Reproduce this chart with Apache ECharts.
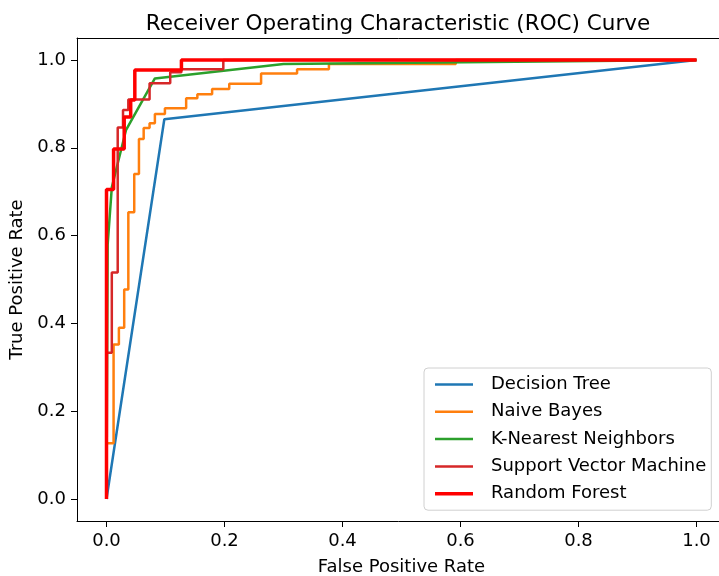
<!DOCTYPE html>
<html>
<head>
<meta charset="utf-8">
<script src="https://cdn.jsdelivr.net/npm/echarts@6/dist/echarts.min.js"></script>
<style>html,body{margin:0;padding:0;background:#fff;}#c{width:719px;height:576px;}</style>
</head>
<body>
<div id="c"></div>
<script>
const seriesNames = ['Decision Tree', 'Naive Bayes', 'K-Nearest Neighbors', 'Support Vector Machine', 'Random Forest'];
const tickValues = [0, 0.2, 0.4, 0.6, 0.8, 1.0];

const dtFpr = [0, 0.098, 1];
const dtTpr = [0, 0.865, 1];

const nbFpr = [0, 0, 0.012, 0.012, 0.021, 0.021, 0.030, 0.030, 0.037, 0.037, 0.047, 0.047, 0.055, 0.055, 0.063, 0.063, 0.073, 0.073, 0.082, 0.082, 0.099, 0.099, 0.135, 0.135, 0.154, 0.154, 0.179, 0.179, 0.208, 0.208, 0.262, 0.262, 0.323, 0.323, 0.377, 0.377, 0.592, 0.592, 1];
const nbTpr = [0, 0.127, 0.127, 0.352, 0.352, 0.390, 0.390, 0.477, 0.477, 0.653, 0.653, 0.740, 0.740, 0.820, 0.820, 0.845, 0.845, 0.856, 0.856, 0.877, 0.877, 0.890, 0.890, 0.913, 0.913, 0.922, 0.922, 0.934, 0.934, 0.946, 0.946, 0.969, 0.969, 0.979, 0.979, 0.991, 0.991, 1, 1];

const knnFpr = [0, 0.002, 0.009, 0.033, 0.082, 0.300, 1];
const knnTpr = [0, 0.580, 0.710, 0.840, 0.958, 0.991, 1];

const svmFpr = [0, 0, 0.009, 0.009, 0.019, 0.019, 0.028, 0.028, 0.037, 0.037, 0.073, 0.073, 0.108, 0.108, 0.127, 0.127, 0.198, 0.198, 1];
const svmTpr = [0, 0.333, 0.333, 0.516, 0.516, 0.846, 0.846, 0.886, 0.886, 0.910, 0.910, 0.947, 0.947, 0.972, 0.972, 0.979, 0.979, 1, 1];

const rfFpr = [0, 0, 0.012, 0.012, 0.030, 0.030, 0.041, 0.041, 0.048, 0.048, 0.127, 0.127, 1];
const rfTpr = [0, 0.705, 0.705, 0.797, 0.797, 0.870, 0.870, 0.909, 0.909, 0.977, 0.977, 1, 1];

function pairs(xs, ys) { return xs.map((x, i) => [x, ys[i]]); }

const FONT = 'DejaVu Sans';
const chart = echarts.init(document.getElementById('c'), null, {renderer: 'canvas', devicePixelRatio: 1});

function mkSeries(name, xs, ys, color, width) {
  return {
    name: name, type: 'line', data: pairs(xs, ys), symbol: 'none', showSymbol: false,
    lineStyle: {color: color, width: width}, itemStyle: {color: color},
    animation: false, silent: true, clip: true
  };
}

function mkAxis(name, gap, rot) {
  return {
    type: 'value', min: -0.05, max: 1.05,
    name: name, nameLocation: 'middle', nameGap: gap, nameRotate: rot,
    nameTextStyle: {fontFamily: FONT, fontSize: 18, color: '#000'},
    axisLine: {show: true, onZero: false, lineStyle: {color: '#000', width: 1}},
    axisTick: {show: true, length: 6, inside: false, customValues: tickValues, lineStyle: {color: '#000', width: 1}},
    axisLabel: {show: true, margin: 11, customValues: tickValues, formatter: v => v.toFixed(1),
      fontFamily: FONT, fontSize: 18, color: '#000'},
    splitLine: {show: false}
  };
}

function mkSpine(pos) {
  return {
    type: 'value', min: -0.05, max: 1.05, position: pos,
    axisLine: {show: true, onZero: false, lineStyle: {color: '#000', width: 1}},
    axisTick: {show: false}, axisLabel: {show: false}, splitLine: {show: false}
  };
}

const legendWidths = [2.5, 2.5, 2.5, 2.5, 3.5];
const legendData = seriesNames.map((n, i) => ({
  name: n,
  icon: 'path://M0 0H38V' + legendWidths[i] + 'H0Z'
}));

chart.setOption({
  backgroundColor: '#fff',
  animation: false,
  title: {
    text: 'Receiver Operating Characteristic (ROC) Curve',
    left: 393, top: 8, textAlign: 'center',
    textStyle: {fontFamily: FONT, fontSize: 21.5, fontWeight: 'normal', color: '#000'}
  },
  grid: {left: 77, top: 38, right: -7, bottom: 55, outerBoundsMode: 'none', containLabel: false, show: false},
  xAxis: [Object.assign(mkAxis('False Positive Rate', 37, 0), {position: 'bottom'}), mkSpine('top')],
  yAxis: [Object.assign(mkAxis('True Positive Rate', 49, 90), {position: 'left'})],
  legend: {
    data: legendData,
    orient: 'vertical',
    left: 424, top: 368,
    itemWidth: 38, itemHeight: 14, itemGap: 8.3,
    symbolKeepAspect: true,
    padding: [7, 5, 7, 11],
    backgroundColor: 'rgba(255,255,255,0.8)',
    borderColor: '#d0d0d0', borderWidth: 1, borderRadius: 4,
    textStyle: {fontFamily: FONT, fontSize: 18, color: '#000', padding: [0, 0, 0, 13], lineHeight: 19},
    selectedMode: false
  },
  series: [
    mkSeries(seriesNames[0], dtFpr, dtTpr, '#1f77b4', 2.5),
    mkSeries(seriesNames[1], nbFpr, nbTpr, '#ff7f0e', 2.5),
    mkSeries(seriesNames[2], knnFpr, knnTpr, '#2ca02c', 2.5),
    mkSeries(seriesNames[3], svmFpr, svmTpr, '#d62728', 2.5),
    mkSeries(seriesNames[4], rfFpr, rfTpr, '#ff0000', 3.5)
  ]
});
</script>
</body>
</html>
